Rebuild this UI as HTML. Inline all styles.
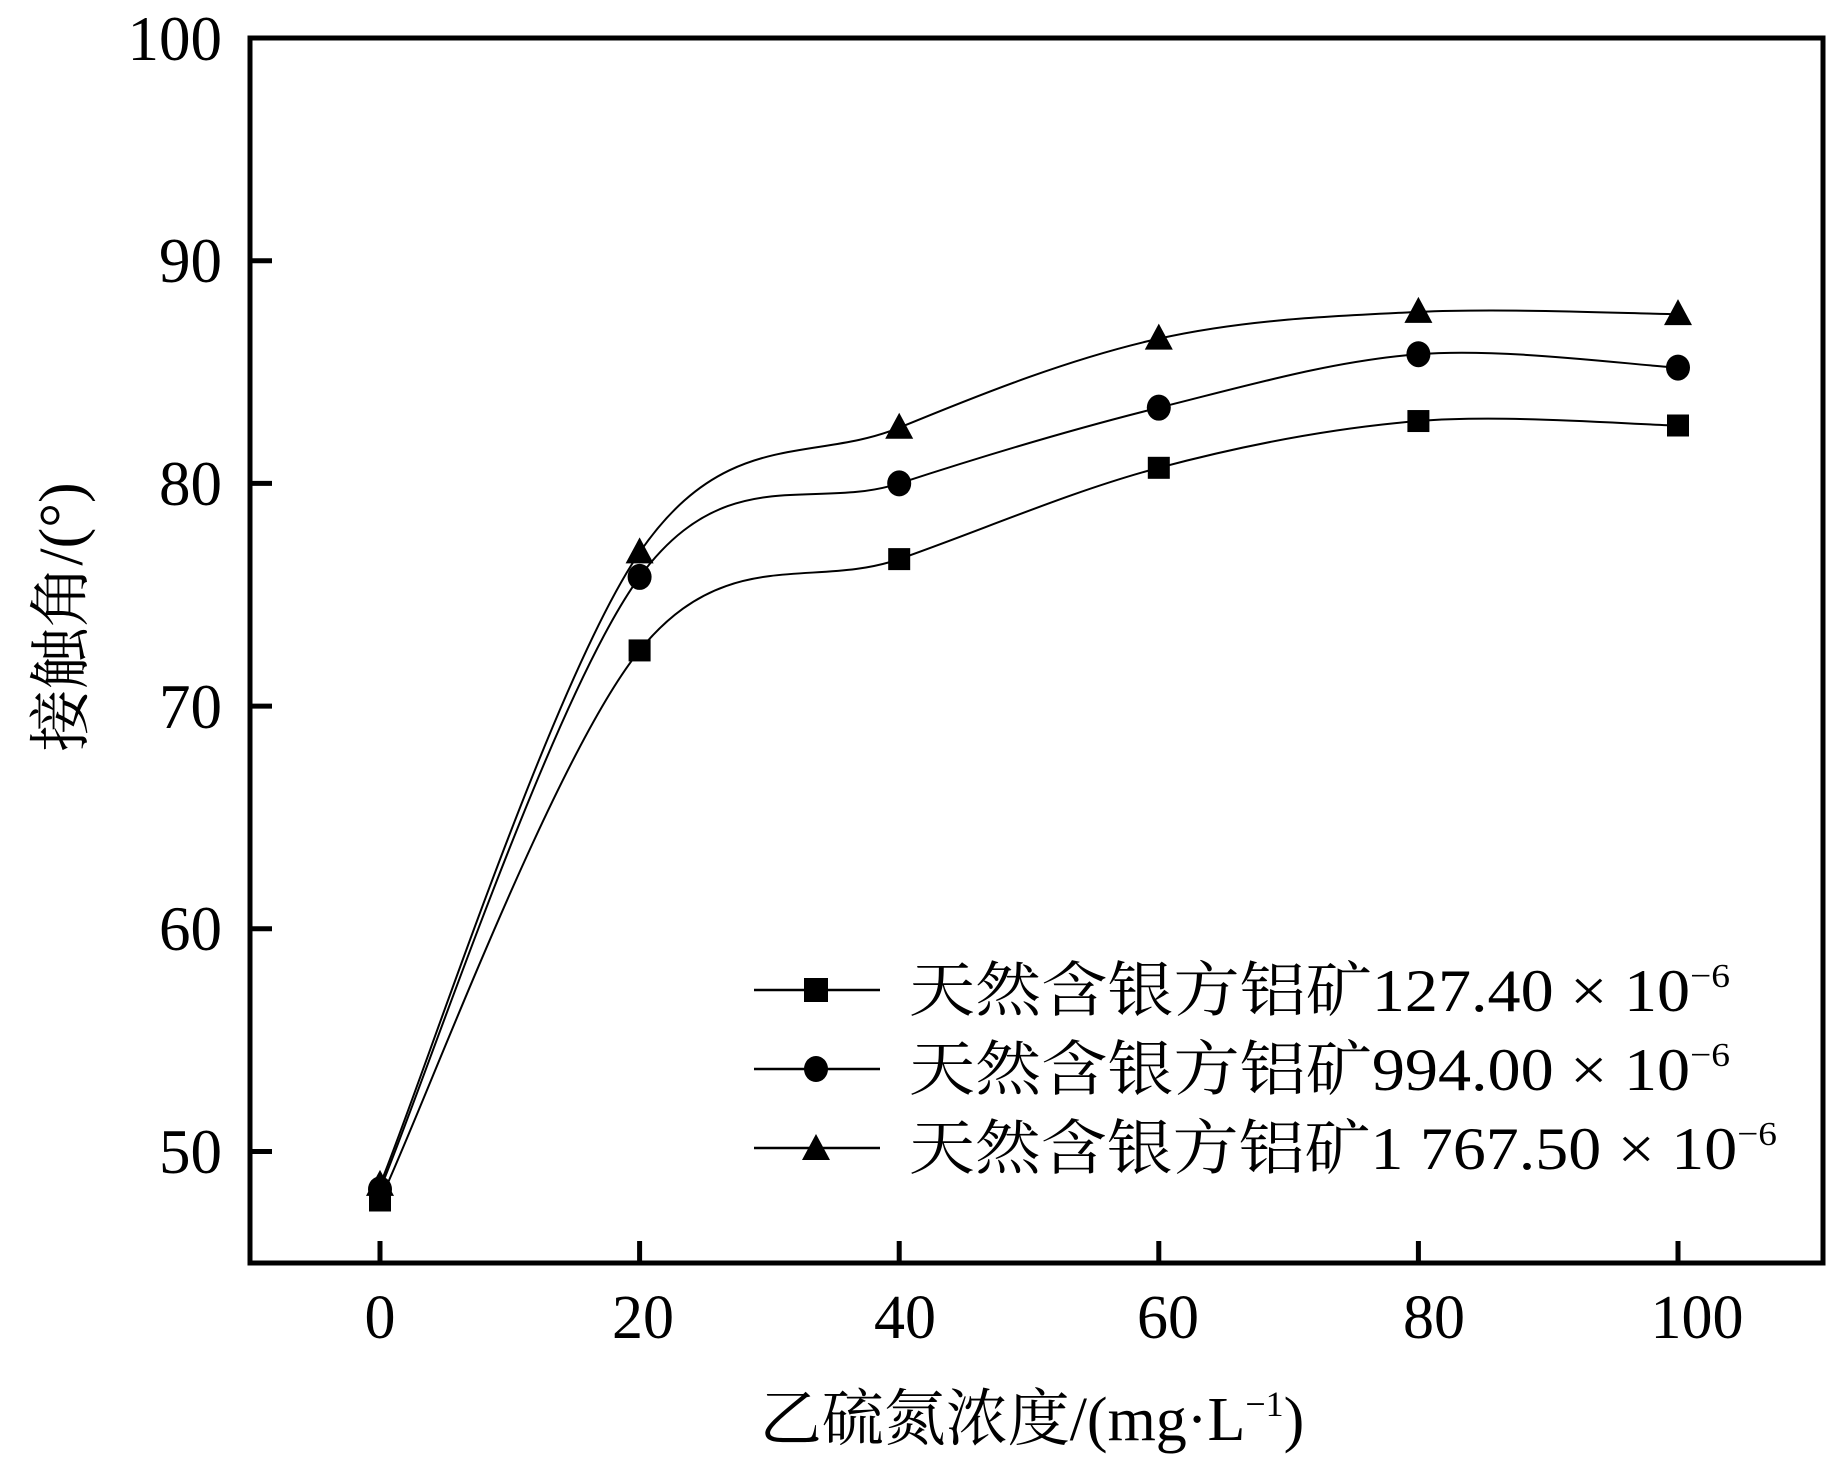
<!DOCTYPE html>
<html><head><meta charset="utf-8"><style>
html,body{margin:0;padding:0;background:#fff;}
svg{display:block;}
text{font-family:"Liberation Serif","Noto Serif CJK SC",serif;fill:#000;}
</style></head><body>
<svg id="s" width="1843" height="1457" viewBox="0 0 1843 1457" xmlns="http://www.w3.org/2000/svg">
<rect x="250" y="38" width="1573" height="1225" fill="none" stroke="#000" stroke-width="5"/>
<g stroke="#000" stroke-width="5">
<line x1="250" y1="260.7" x2="272" y2="260.7"/>
<line x1="250" y1="483.4" x2="272" y2="483.4"/>
<line x1="250" y1="706.1" x2="272" y2="706.1"/>
<line x1="250" y1="928.8" x2="272" y2="928.8"/>
<line x1="250" y1="1151.5" x2="272" y2="1151.5"/>
<line x1="380" y1="1263" x2="380" y2="1241"/>
<line x1="639.6" y1="1263" x2="639.6" y2="1241"/>
<line x1="899.2" y1="1263" x2="899.2" y2="1241"/>
<line x1="1158.8" y1="1263" x2="1158.8" y2="1241"/>
<line x1="1418.4" y1="1263" x2="1418.4" y2="1241"/>
<line x1="1678" y1="1263" x2="1678" y2="1241"/>
</g>
<g font-size="63" text-anchor="end">
<text x="222" y="60">100</text>
<text x="222" y="282">90</text>
<text x="222" y="505">80</text>
<text x="222" y="728">70</text>
<text x="222" y="950">60</text>
<text x="222" y="1173">50</text>
</g>
<g font-size="62" text-anchor="middle">
<text x="380" y="1338">0</text>
<text x="643" y="1338">20</text>
<text x="905" y="1338">40</text>
<text x="1168" y="1338">60</text>
<text x="1434" y="1338">80</text>
<text x="1697" y="1338">100</text>
</g>
<text x="1032" y="1440" font-size="62" text-anchor="middle">乙硫氮浓度/(mg·L<tspan font-size="36" dy="-24">−1</tspan><tspan dy="24">)</tspan></text>
<text transform="translate(82,617) rotate(-90)" font-size="62" text-anchor="middle">接触角/(°)</text>
<g id="curves" fill="none" stroke="#000" stroke-width="2"></g>
<g id="marks" fill="#000"></g>
<g stroke="#000" stroke-width="2.5">
<line x1="754" y1="990" x2="880" y2="990"/>
<line x1="754" y1="1069" x2="880" y2="1069"/>
<line x1="754" y1="1148" x2="880" y2="1148"/>
</g>
<rect x="804" y="978" width="24" height="24" fill="#000"/>
<ellipse cx="816" cy="1069" rx="12" ry="13" fill="#000"/>
<polygon points="816,1134 830,1160 802,1160" fill="#000"/>
<g font-size="60">
<text x="909" y="1011" textLength="821" lengthAdjust="spacingAndGlyphs">天然含银方铝矿127.40<tspan> × </tspan>10<tspan font-size="34" dy="-24">−6</tspan></text>
<text x="909" y="1090" textLength="821" lengthAdjust="spacingAndGlyphs">天然含银方铝矿994.00<tspan> × </tspan>10<tspan font-size="34" dy="-24">−6</tspan></text>
<text x="909" y="1169" textLength="868" lengthAdjust="spacingAndGlyphs">天然含银方铝矿1 767.50<tspan> × </tspan>10<tspan font-size="34" dy="-24">−6</tspan></text>
</g>
</svg>
<script>
var xs=[380,639.6,899.2,1158.8,1418.4,1678];
function Y(v){return 38+(100-v)*22.27;}
var data=[[47.8,72.5,76.6,80.7,82.8,82.6],[48.3,75.8,80.0,83.4,85.8,85.2],[48.5,76.9,82.5,86.5,87.7,87.6]];
var NS="http://www.w3.org/2000/svg";
var cg=document.getElementById('curves'),mg=document.getElementById('marks');
data.forEach(function(d,k){
 var p=d.map(function(v,i){return [xs[i],Y(v)];});
 var s="M"+p[0][0]+","+p[0][1];
 for(var i=0;i<p.length-1;i++){
  var a=p[i-1]||p[i],b=p[i],c=p[i+1],e=p[i+2]||p[i+1];
  var c1=[b[0]+(c[0]-a[0])/6,b[1]+(c[1]-a[1])/6],c2=[c[0]-(e[0]-b[0])/6,c[1]-(e[1]-b[1])/6];
  s+=" C"+c1+" "+c2+" "+c;
 }
 var path=document.createElementNS(NS,'path');path.setAttribute('d',s);cg.appendChild(path);
 p.forEach(function(q){
  var el;
  if(k==0){el=document.createElementNS(NS,'rect');el.setAttribute('x',q[0]-11);el.setAttribute('y',q[1]-11);el.setAttribute('width',22);el.setAttribute('height',22);}
  else if(k==1){el=document.createElementNS(NS,'ellipse');el.setAttribute('cx',q[0]);el.setAttribute('cy',q[1]);el.setAttribute('rx',12);el.setAttribute('ry',13);}
  else{el=document.createElementNS(NS,'polygon');el.setAttribute('points',q[0]+","+(q[1]-15)+" "+(q[0]+14)+","+(q[1]+11)+" "+(q[0]-14)+","+(q[1]+11));}
  mg.appendChild(el);
 });
});
</script>
</body></html>
